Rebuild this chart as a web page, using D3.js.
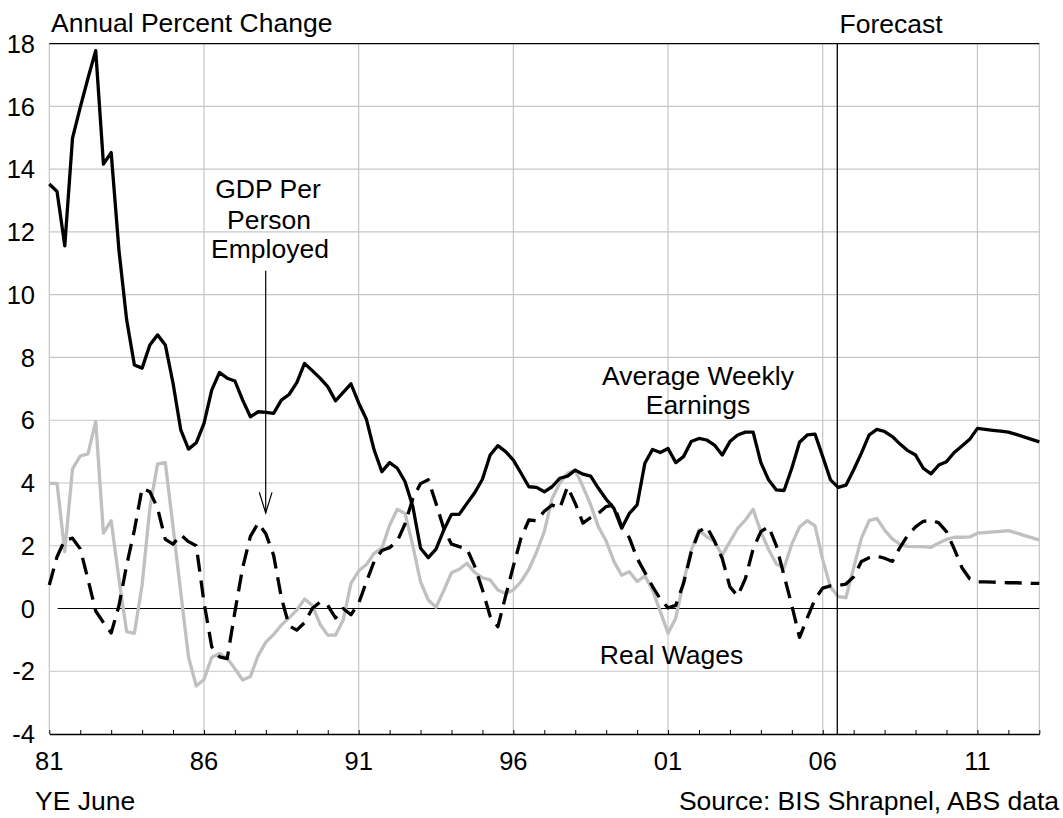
<!DOCTYPE html>
<html>
<head>
<meta charset="utf-8">
<script src="https://cdn.jsdelivr.net/npm/d3@7"></script>
<style>
  html, body { margin: 0; padding: 0; background: #fff; }
  svg { display: block; }
  text { font-family: "Liberation Sans", Arial, sans-serif; fill: #000; }
</style>
</head>
<body>
<svg id="chart" width="1063" height="818"></svg>
<script>
// ---- data (quarterly, year ended June; 1981.00 .. 2013.00) ----
const startYear = 1981;
const endYear = 2013;
const quarters = d3.range(0, 129).map(i => startYear + i / 4);

const averageWeeklyEarnings = [
  13.53, 13.29, 11.56, 14.99, 15.97, 16.9, 17.78, 14.16,
  14.53, 11.43, 9.2, 7.76, 7.66, 8.4, 8.72, 8.4,
  7.18, 5.69, 5.08, 5.28, 5.9, 6.96, 7.52, 7.34,
  7.25, 6.64, 6.11, 6.27, 6.25, 6.22, 6.64, 6.82,
  7.2, 7.81, 7.58, 7.34, 7.07, 6.62, 6.89, 7.16,
  6.55, 6.03, 5.05, 4.36, 4.65, 4.47, 4.04, 3.25,
  1.92, 1.62, 1.89, 2.5, 3.0, 3.0, 3.35, 3.69,
  4.12, 4.89, 5.19, 5.0, 4.73, 4.31, 3.88, 3.86,
  3.72, 3.88, 4.15, 4.22, 4.41, 4.28, 4.22, 3.83,
  3.48, 3.19, 2.56, 3.03, 3.3, 4.63, 5.07, 4.97,
  5.1, 4.65, 4.84, 5.32, 5.42, 5.37, 5.21, 4.89,
  5.32, 5.53, 5.62, 5.62, 4.65, 4.1, 3.78, 3.76,
  4.47, 5.3, 5.53, 5.56, 4.84, 4.1, 3.86, 3.93,
  4.42, 4.95, 5.53, 5.71, 5.64, 5.48, 5.24, 5.03,
  4.89, 4.47, 4.29, 4.57, 4.68, 4.97, 5.18, 5.39,
  5.74, 5.71, 5.68, 5.65, 5.62, 5.55, 5.47, 5.39,
  5.31
];

const gdpPerPersonEmployed = [
  0.75, 1.65, 2.18, 2.24, 1.9, 0.93, -0.08, -0.45,
  -0.78, 0.08, 1.38, 2.5, 3.83, 3.72, 3.2, 2.2,
  2.05, 2.35, 2.13, 2.0, 0.2, -1.22, -1.54, -1.6,
  -0.1, 1.3, 2.3, 2.72, 2.38, 1.7, 0.35, -0.55,
  -0.69, -0.45, 0.0, 0.2, 0.1, -0.3, 0.0, -0.2,
  0.16, 0.85, 1.5, 1.85, 1.94, 2.15, 2.7, 3.5,
  3.98, 4.1, 3.35, 2.55, 2.05, 1.97, 1.9, 1.35,
  0.6, -0.25, -0.58, 0.4, 1.35, 2.25, 2.82, 2.8,
  3.1, 3.3, 3.19, 3.88, 3.35, 2.72, 2.9, 3.03,
  3.25, 3.3, 2.61, 2.25, 1.6, 1.15, 0.7, 0.3,
  0.02, 0.1, 0.8, 1.8, 2.45, 2.61, 2.15, 1.6,
  0.69, 0.4, 0.95, 1.9, 2.45, 2.61, 2.0, 1.05,
  0.1, -0.92, -0.3, 0.3, 0.65, 0.72, 0.73, 0.78,
  1.01, 1.5, 1.62, 1.67, 1.6, 1.5, 1.95, 2.34,
  2.6, 2.78, 2.82, 2.73, 2.45, 1.9, 1.3, 0.95,
  0.85, 0.85, 0.84, 0.83, 0.82, 0.82, 0.81, 0.8,
  0.8
];

const realWages = [
  3.99, 3.99, 1.81, 4.45, 4.86, 4.93, 5.96, 2.4,
  2.8, 0.95, -0.74, -0.79, 0.75, 3.2, 4.61, 4.65,
  2.6, 0.5, -1.55, -2.47, -2.26, -1.56, -1.43, -1.59,
  -1.92, -2.28, -2.17, -1.5, -1.07, -0.83, -0.53, -0.3,
  -0.05, 0.3, 0.1, -0.5, -0.85, -0.85, -0.37, 0.8,
  1.2, 1.4, 1.76, 1.92, 2.65, 3.16, 3.03, 2.0,
  0.85, 0.27, 0.04, 0.57, 1.14, 1.25, 1.44, 1.15,
  0.98, 0.91, 0.59, 0.48, 0.59, 0.86, 1.25, 1.8,
  2.45, 3.5, 3.99, 4.31, 4.41, 3.88, 3.3, 2.6,
  2.15, 1.5, 1.06, 1.17, 0.86, 1.04, 0.59, -0.1,
  -0.79, -0.3, 0.85, 1.85, 2.5, 2.29, 2.13, 1.7,
  2.13, 2.55, 2.82, 3.16, 2.45, 1.88, 1.42, 1.3,
  2.05, 2.6, 2.8, 2.63, 1.55, 0.68, 0.38, 0.35,
  1.3, 2.24, 2.8, 2.87, 2.5, 2.22, 2.04, 1.98,
  1.97, 1.97, 1.95, 2.09, 2.2, 2.27, 2.27, 2.28,
  2.4, 2.42, 2.44, 2.46, 2.48, 2.41, 2.33, 2.26,
  2.18
];

const yTicks = [-4, -2, 0, 2, 4, 6, 8, 10, 12, 14, 16, 18];
const xLabelYears = [1981, 1986, 1991, 1996, 2001, 2006, 2011];
const xLabelText = ["81", "86", "91", "96", "01", "06", "11"];
const forecastStart = 2006.47;

// ---- layout ----
const svg = d3.select("#chart");
const plotLeft = 49.3, plotRight = 1039.3, plotTop = 43.7, plotBottom = 734;
const FS = 26.5;     // annotation text
const TFS = 25.5;    // tick labels

const x = d3.scaleLinear().domain([startYear, endYear]).range([plotLeft, plotRight]);
const y = d3.scaleLinear().domain([-4, 18]).range([plotBottom, plotTop]);

svg.append("rect").attr("width", 1063).attr("height", 818).attr("fill", "#fff");

const g = svg.append("g");
const gridColor = "#c6c6c6";

// horizontal gridlines
g.append("g").selectAll("line").data(yTicks.filter(v => v !== -4 && v !== 0 && v !== 18)).join("line")
  .attr("x1", plotLeft).attr("x2", plotRight)
  .attr("y1", d => y(d)).attr("y2", d => y(d))
  .attr("stroke", gridColor).attr("stroke-width", 1.2);

// vertical gridlines
g.append("g").selectAll("line").data(xLabelYears.concat([endYear])).join("line")
  .attr("x1", d => x(d)).attr("x2", d => x(d))
  .attr("y1", plotTop).attr("y2", plotBottom)
  .attr("stroke", gridColor).attr("stroke-width", 1.2);

// top border (black)
g.append("line").attr("x1", plotLeft).attr("x2", plotRight).attr("y1", y(18)).attr("y2", y(18))
  .attr("stroke", "#000").attr("stroke-width", 1.2);

// zero line
g.append("line").attr("x1", x(1981.27)).attr("x2", plotRight).attr("y1", y(0)).attr("y2", y(0))
  .attr("stroke", "#000").attr("stroke-width", 1.2);

// bottom axis with inner year ticks
const xAxis = d3.axisBottom(x)
  .tickValues(d3.range(startYear, endYear + 1, 1))
  .tickSizeInner(-4).tickSizeOuter(0).tickFormat("");
const ax = g.append("g").attr("transform", `translate(0,${plotBottom})`).call(xAxis);
ax.select(".domain").attr("stroke", "#000").attr("stroke-width", 1.5);
ax.selectAll(".tick line").attr("stroke", "#000").attr("stroke-width", 1);

// x labels
g.append("g").selectAll("text").data(xLabelYears).join("text")
  .attr("x", d => x(d)).attr("y", 770)
  .attr("text-anchor", "middle").attr("font-size", TFS)
  .text((d, i) => xLabelText[i]);

// y labels
g.append("g").selectAll("text").data(yTicks).join("text")
  .attr("x", 35).attr("y", d => y(d) + TFS * 0.36)
  .attr("text-anchor", "end").attr("font-size", TFS)
  .text(d => d);

// series
const line = vals => d3.line().x((d, i) => x(quarters[i])).y(d => y(d))(vals);

g.append("path").attr("d", line(realWages))
  .attr("fill", "none").attr("stroke", "#c0c0c0").attr("stroke-width", 3.3)
  .attr("stroke-linejoin", "round");

g.append("path").attr("d", line(gdpPerPersonEmployed))
  .attr("fill", "none").attr("stroke", "#000").attr("stroke-width", 3.3)
  .attr("stroke-dasharray", "17,9").attr("stroke-linejoin", "round");

g.append("path").attr("d", line(averageWeeklyEarnings))
  .attr("fill", "none").attr("stroke", "#000").attr("stroke-width", 3.3)
  .attr("stroke-linejoin", "round");

// forecast line
g.append("line").attr("x1", x(forecastStart)).attr("x2", x(forecastStart))
  .attr("y1", plotTop).attr("y2", plotBottom).attr("stroke", "#000").attr("stroke-width", 1.3);

// texts
const addText = (txt, xx, yy, anchor) => g.append("text").attr("x", xx).attr("y", yy)
  .attr("text-anchor", anchor || "start").attr("font-size", FS).text(txt);

addText("Annual Percent Change", 51, 31.5);
addText("Forecast", 839.5, 33.3);
addText("GDP Per", 268, 198.3, "middle");
addText("Person", 269, 228.5, "middle");
addText("Employed", 270, 257.5, "middle");
addText("Average Weekly", 698, 385, "middle");
addText("Earnings", 698, 413.5, "middle");
addText("Real Wages", 671.5, 664, "middle");
addText("YE June", 35, 809.5);
addText("Source: BIS Shrapnel, ABS data", 1059, 809.5, "end");

// arrow for GDP label
g.append("line").attr("x1", 265.7).attr("x2", 265.7).attr("y1", 270.7).attr("y2", 513)
  .attr("stroke", "#000").attr("stroke-width", 1.2);
g.append("path").attr("d", "M259.3,492.3 L265.7,513 L272,492.3")
  .attr("fill", "none").attr("stroke", "#000").attr("stroke-width", 1.2);
</script>
</body>
</html>
